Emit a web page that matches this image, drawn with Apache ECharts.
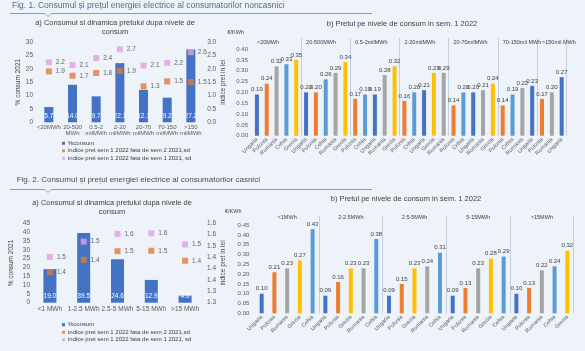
<!DOCTYPE html>
<html>
<head>
<meta charset="utf-8">
<script src="https://cdn.jsdelivr.net/npm/echarts@6/dist/echarts.min.js"></script>
<style>
html, body { margin: 0; padding: 0; background: #eef2f9; }
#main { width: 585px; height: 351px; }
</style>
</head>
<body>
<div id="main"></div>
<script>
// Fig. 1 a) - noncasnici, consum si indici
const ncLevels = ['<20MWh', '20-500\nMWh', '0.5-2\nmilMWh', '2-20\nmilMWh', '20-70\nmilMWh', '70-150\nmilMWh', '>150\nmilMWh'];
const ncConsum = [5.7, 14.0, 9.7, 22.1, 12.1, 9.2, 27.2];
const ncIdxSem2 = [1.90, 1.74, 1.84, 1.92, 1.34, 1.53, 1.50];
const ncIdxSem1 = [2.24, 2.14, 2.40, 2.73, 2.12, 2.22, 2.62];

// Fig. 1 b) - pret pe nivele de consum
const ncGroups = ['<20MWh', '20-500MWh', '0.5-2milMWh', '2-20milMWh', '20-70milMWh', '70-150mil MWh', '>150mil MWh'];
const ncCountries = [
    ['Ungaria', 'Polonia', 'Romania', 'Cehia', 'Grecia'],
    ['Ungaria', 'Polonia', 'Cehia', 'Romania', 'Grecia'],
    ['Polonia', 'Cehia', 'Ungaria', 'Romania', 'Grecia'],
    ['Polonia', 'Cehia', 'Ungaria', 'Grecia', 'Romania'],
    ['Polonia', 'Cehia', 'Ungaria', 'Romania', 'Grecia'],
    ['Polonia', 'Cehia', 'Romania', 'Ungaria'],
    ['Polonia', 'Romania', 'Ungaria']
];
const ncPrices = [
    [0.19, 0.24, 0.32, 0.33, 0.35],
    [0.20, 0.20, 0.26, 0.29, 0.34],
    [0.17, 0.19, 0.19, 0.28, 0.32],
    [0.16, 0.20, 0.21, 0.29, 0.29],
    [0.14, 0.20, 0.20, 0.21, 0.24],
    [0.14, 0.19, 0.22, 0.23],
    [0.17, 0.20, 0.27]
];

// Fig. 2 a) - casnici
const hhLevels = ['<1 MWh', '1-2.5 MWh', '2.5-5 MWh', '5-15 MWh', '>15 MWh'];
const hhConsum = [19.0, 39.5, 24.6, 12.9, 4.0];
const hhIdxSem2 = [1.384, 1.439, 1.477, 1.479, 1.435];
const hhIdxSem1 = [1.452, 1.519, 1.553, 1.556, 1.507];

// Fig. 2 b)
const hhGroups = ['<1MWh', '2-2.5MWh', '2.5-5MWh', '5-15MWh', '>15MWh'];
const hhCountries = [
    ['Ungaria', 'Polonia', 'Romania', 'Grecia', 'Cehia'],
    ['Ungaria', 'Polonia', 'Grecia', 'Romania', 'Cehia'],
    ['Ungaria', 'Polonia', 'Grecia', 'Romania', 'Cehia'],
    ['Ungaria', 'Polonia', 'Romania', 'Grecia', 'Cehia'],
    ['Ungaria', 'Polonia', 'Romania', 'Cehia', 'Grecia']
];
const hhPrices = [
    [0.10, 0.21, 0.23, 0.27, 0.43],
    [0.09, 0.16, 0.23, 0.23, 0.38],
    [0.09, 0.15, 0.23, 0.24, 0.31],
    [0.09, 0.13, 0.23, 0.28, 0.29],
    [0.10, 0.13, 0.22, 0.24, 0.32]
];

const countryColors = {
    Ungaria: '#4472c4',
    Polonia: '#ed7d31',
    Romania: '#a5a5a5',
    Cehia: '#5b9bd5',
    Grecia: '#ffc000'
};

const NAME_BAR = '%consum';
const NAME_S2 = 'indice pret sem 1 2022 fata de sem 2 2021,sd';
const NAME_S1 = 'indice pret sem 1 2022 fata de sem 1 2021, sd';

const FONT = '"Liberation Sans", Arial, sans-serif';
const TXT = '#404040';
const AX = '#595959';
const SEP = '#c3cee0';

// flatten grouped data into one category axis
function flatten(countries, prices) {
    const cats = [], vals = [], starts = [];
    countries.forEach((g, gi) => {
        starts.push(cats.length);
        g.forEach((c, i) => {
            cats.push(c);
            vals.push({ value: prices[gi][i], itemStyle: { color: countryColors[c] } });
        });
    });
    return { cats, vals, starts };
}
const nc = flatten(ncCountries, ncPrices);
const hh = flatten(hhCountries, hhPrices);

const chart = echarts.init(document.getElementById('main'));

function catAxis(grid, data, fontSize, margin) {
    return {
        type: 'category', gridIndex: grid, data: data,
        axisLine: { show: false }, axisTick: { show: false },
        axisLabel: { color: AX, fontSize: fontSize, fontFamily: FONT, margin: margin, interval: 0, lineHeight: fontSize }
    };
}
function valAxis(grid, min, max, step, fmt, opts) {
    return Object.assign({
        type: 'value', gridIndex: grid, min: min, max: max, interval: step,
        splitLine: { show: false }, axisLine: { show: false }, axisTick: { show: false },
        axisLabel: { color: AX, fontSize: 6.5, fontFamily: FONT, formatter: v => v.toFixed(fmt) }
    }, opts || {});
}
function markerSeries(name, x, y, data, color) {
    return {
        name: name, type: 'scatter', xAxisIndex: x, yAxisIndex: y, data: data,
        symbol: 'rect', symbolSize: 6, itemStyle: { color: color },
        label: { show: true, position: 'right', distance: 4, color: TXT, fontSize: 6.5, fontFamily: FONT,
                 formatter: p => p.value.toFixed(1) }
    };
}
function priceSeries(x, y, vals) {
    return {
        type: 'bar', xAxisIndex: x, yAxisIndex: y, data: vals, barWidth: 4,
        label: { show: true, position: 'top', distance: 2, color: TXT, fontSize: 6, fontFamily: FONT,
                 formatter: p => p.value.toFixed(2) }
    };
}
function legendAt(left, top) {
    return {
        orient: 'vertical', left: left, top: top, itemWidth: 3, itemHeight: 3, itemGap: 1,
        icon: 'rect', padding: 0,
        textStyle: { color: TXT, fontSize: 6, fontFamily: FONT, lineHeight: 6.5, padding: [0, 0, 0, -2] },
        data: [NAME_BAR, NAME_S2, NAME_S1]
    };
}
function titleLine(y) {
    return {
        type: 'polyline', silent: true,
        shape: { points: [[10, y], [45, y], [48, y + 3], [51, y], [372, y]] },
        style: { stroke: '#8d9bb0', lineWidth: 1, fill: null }
    };
}
function text(x, y, str, size, color, align) {
    return {
        type: 'text', x: x, y: y, silent: true,
        style: { text: str, fill: color, fontSize: size, fontFamily: FONT, align: align || 'left',
                 verticalAlign: 'middle', lineHeight: 9 }
    };
}

const option = {
    backgroundColor: '#eef2f9',
    animation: false,
    textStyle: { fontFamily: FONT },
    grid: [
        { left: 37, top: 42, width: 165.7, height: 80.3, outerBoundsMode: 'none' },
        { left: 252, top: 38.2, width: 314.6, height: 97.5, outerBoundsMode: 'none' },
        { left: 33, top: 223.3, width: 169, height: 79.4, outerBoundsMode: 'none' },
        { left: 255.3, top: 215.5, width: 318.4, height: 97.8, outerBoundsMode: 'none' }
    ],
    legend: [legendAt(62, 140), legendAt(62, 321.5)],
    xAxis: [
        catAxis(0, ncLevels, 6, 2.5),
        Object.assign(catAxis(1, nc.cats, 5.5, 3), {
            axisLabel: { color: AX, fontSize: 5.5, fontFamily: FONT, margin: 3, interval: 0, rotate: 45 },
            splitLine: { show: true, interval: i => i > 0 && nc.starts.includes(i), lineStyle: { color: SEP, width: 1 } }
        }),
        {
            type: 'category', gridIndex: 1, position: 'top', data: nc.cats,
            axisLine: { show: false }, axisTick: { show: false },
            axisLabel: { inside: true, margin: 1, align: 'left', color: TXT, fontSize: 5.5, fontFamily: FONT,
                         interval: i => nc.starts.includes(i),
                         formatter: (v, i) => ncGroups[nc.starts.indexOf(i)] || '' }
        },
        catAxis(2, hhLevels, 6.5, 3.5),
        Object.assign(catAxis(3, hh.cats, 5.5, 3), {
            axisLabel: { color: AX, fontSize: 5.5, fontFamily: FONT, margin: 3, interval: 0, rotate: 45 },
            splitLine: { show: true, interval: i => i > 0 && hh.starts.includes(i), lineStyle: { color: SEP, width: 1 } }
        }),
        {
            type: 'category', gridIndex: 3, position: 'top', data: hh.cats,
            axisLine: { show: false }, axisTick: { show: false },
            axisLabel: { inside: true, margin: -1.5, align: 'center', color: TXT, fontSize: 5.5, fontFamily: FONT,
                         interval: i => hh.starts.includes(i - 2),
                         formatter: (v, i) => hhGroups[hh.starts.indexOf(i - 2)] || '' }
        }
    ],
    yAxis: [
        valAxis(0, 0, 30, 5, 0, { name: '% consum 2021', nameLocation: 'middle', nameGap: 15,
            nameTextStyle: { color: TXT, fontSize: 6.5, fontFamily: FONT }, axisLabel: { color: AX, fontSize: 6.5, fontFamily: FONT, margin: 4 } }),
        valAxis(0, 0, 3, 0.5, 1, { position: 'right', name: 'indice pret in lei', nameLocation: 'middle', nameGap: 15.5,
            nameTextStyle: { color: TXT, fontSize: 6.5, fontFamily: FONT },
            axisLabel: { color: AX, fontSize: 6.5, fontFamily: FONT, margin: 4.5, formatter: v => v.toFixed(1) } }),
        valAxis(1, 0, 0.45, 0.05, 2, { axisLabel: { color: AX, fontSize: 6, fontFamily: FONT, margin: 4,
            showMaxLabel: false, formatter: v => v.toFixed(2) } }),
        valAxis(2, 0, 45, 5, 0, { name: '% consum 2021', nameLocation: 'middle', nameGap: 18,
            nameTextStyle: { color: TXT, fontSize: 6.5, fontFamily: FONT }, axisLabel: { color: AX, fontSize: 6.5, fontFamily: FONT, margin: 3 } }),
        valAxis(2, 1.25, 1.6, 0.05, 1, { position: 'right', name: 'indice pret in lei', nameLocation: 'middle', nameGap: 16,
            nameTextStyle: { color: TXT, fontSize: 6.5, fontFamily: FONT },
            axisLabel: { color: AX, fontSize: 6.5, fontFamily: FONT, margin: 5, formatter: v => v.toFixed(1) } }),
        valAxis(3, 0, 0.5, 0.05, 2, { axisLabel: { color: AX, fontSize: 6, fontFamily: FONT, margin: 6,
            showMaxLabel: false, formatter: v => v.toFixed(2) } })
    ],
    series: [
        {
            name: NAME_BAR, type: 'bar', xAxisIndex: 0, yAxisIndex: 0, data: ncConsum, barWidth: 9,
            itemStyle: { color: '#4472c4' },
            label: { show: true, position: 'insideBottom', distance: 3, color: '#fff', fontSize: 6.5, fontFamily: FONT,
                     formatter: p => p.value.toFixed(1) }
        },
        markerSeries(NAME_S2, 0, 1, ncIdxSem2, '#e0793a'),
        markerSeries(NAME_S1, 0, 1, ncIdxSem1, '#e49ee4'),
        priceSeries(1, 2, nc.vals),
        {
            name: NAME_BAR, type: 'bar', xAxisIndex: 3, yAxisIndex: 3, data: hhConsum, barWidth: 13,
            itemStyle: { color: '#4472c4' },
            label: { show: true, position: 'insideBottom', distance: 3, color: '#fff', fontSize: 6.5, fontFamily: FONT,
                     formatter: p => p.value.toFixed(1) }
        },
        markerSeries(NAME_S2, 3, 4, hhIdxSem2, '#e0793a'),
        markerSeries(NAME_S1, 3, 4, hhIdxSem1, '#e49ee4'),
        priceSeries(4, 5, hh.vals)
    ],
    graphic: [
        text(12, 5.5, 'Fig. 1. Consumul și prețul energiei electrice al consumatorilor noncasnici', 8.5, '#4f6d96'),
        titleLine(13.5),
        text(115, 27.8, 'a) Consumul si dinamica pretului dupa nivele de\nconsum', 7.5, TXT, 'center'),
        text(402, 24, 'b) Pretul pe nivele de consum in sem. 1 2022', 7.5, TXT, 'center'),
        text(227.5, 32.3, '€/KWh', 5.5, TXT),
        text(16.7, 180, 'Fig. 2. Consumul și prețul energiei electrice al consumatorilor casnici', 8, '#4d4d4d'),
        titleLine(189.5),
        text(112, 207.2, 'a) Consumul si dinamica pretului dupa nivele de\nconsum', 7.5, TXT, 'center'),
        text(406, 199, 'b) Pretul pe nivele de consum in sem. 1 2022', 7.5, TXT, 'center'),
        text(225, 211.7, '€/KWh', 5.5, TXT)
    ]
};
chart.setOption(option);
</script>
</body>
</html>
